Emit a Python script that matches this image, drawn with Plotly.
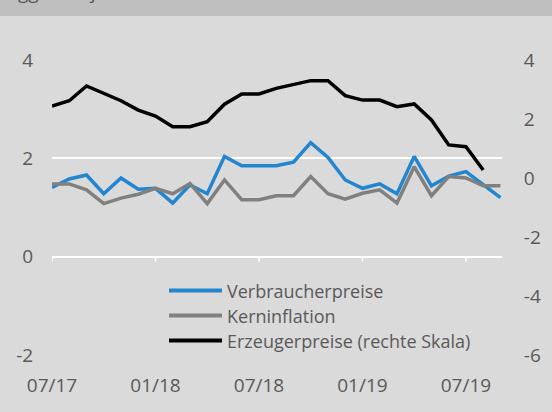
import plotly.graph_objects as go

months = ["07/17", "08/17", "09/17", "10/17", "11/17", "12/17",
          "01/18", "02/18", "03/18", "04/18", "05/18", "06/18",
          "07/18", "08/18", "09/18", "10/18", "11/18", "12/18",
          "01/19", "02/19", "03/19", "04/19", "05/19", "06/19",
          "07/19", "08/19", "09/19"]

verbraucherpreise = [1.41, 1.58, 1.66, 1.28, 1.60, 1.37, 1.39, 1.09, 1.46,
                     1.28, 2.04, 1.85, 1.85, 1.85, 1.92, 2.32, 2.02, 1.56,
                     1.39, 1.48, 1.28, 2.04, 1.44, 1.64, 1.73, 1.46, 1.20]

kerninflation = [1.48, 1.48, 1.36, 1.08, 1.19, 1.27, 1.39, 1.28, 1.49,
                 1.08, 1.56, 1.16, 1.16, 1.24, 1.24, 1.63, 1.28, 1.17,
                 1.29, 1.36, 1.09, 1.83, 1.24, 1.63, 1.60, 1.44, 1.44]

erzeugerpreise = [2.44, 2.62, 3.12, 2.87, 2.62, 2.30, 2.10, 1.74, 1.74,
                  1.91, 2.50, 2.85, 2.85, 3.04, 3.16, 3.30, 3.30, 2.79,
                  2.64, 2.64, 2.42, 2.51, 1.97, 1.12, 1.06, 0.27]

series_names = ["Verbraucherpreise", "Kerninflation", "Erzeugerpreise (rechte Skala)"]
series_colors = ["#2185d0", "#808080", "#000000"]

tick_months = ["07/17", "01/18", "07/18", "01/19", "07/19"]
left_ticks = [-2, 0, 2, 4]
left_labels = ["-2", "0", "2", "4"]
right_ticks = [-6, -4, -2, 0, 2, 4]
right_labels = ["-6", "-4", "-2", "0", "2", "4"]

BG = "#dadada"
TXT = "#595959"
FONT = "Open Sans"
FS = 19
LEG_FS = 18

fig = go.Figure()
fig.add_trace(go.Scatter(x=months, y=verbraucherpreise, name=series_names[0],
                         mode="lines", line=dict(color=series_colors[0], width=3.5)))
fig.add_trace(go.Scatter(x=months, y=kerninflation, name=series_names[1],
                         mode="lines", line=dict(color=series_colors[1], width=3.5)))
fig.add_trace(go.Scatter(x=months[:len(erzeugerpreise)], y=erzeugerpreise,
                         name=series_names[2], yaxis="y2",
                         mode="lines", line=dict(color=series_colors[2], width=3.5)))

W_PLOT, H_PLOT, L, B = 450, 295, 52, 57


def px_x(p):
    return (p - L) / W_PLOT


def px_y(p):
    return (412 - B - p) / H_PLOT


shapes = []
annotations = []
# header band
shapes.append(dict(type="rect", xref="paper", yref="paper",
                   x0=-0.2, x1=1.2, y0=px_y(16), y1=1.3,
                   fillcolor="#bfbfbf", line=dict(width=0), layer="below"))
annotations.append(dict(text="ggü. Vorjahr", xref="paper", yref="paper",
                        x=px_x(16), xanchor="left", y=px_y(7), yanchor="bottom",
                        showarrow=False, font=dict(size=FS, color=TXT)))
# tick marks on the zero line
for m in tick_months:
    shapes.append(dict(type="line", xref="x", yref="y", x0=m, x1=m,
                       ysizemode="pixel", yanchor=0, y0=0, y1=-5,
                       line=dict(color="white", width=1.5)))
# legend
legend_rows = [290.5, 315.5, 340.5]
for name, color, row in zip(series_names, series_colors, legend_rows):
    shapes.append(dict(type="line", xref="paper", yref="paper",
                       x0=px_x(169), x1=px_x(222), y0=px_y(row), y1=px_y(row),
                       line=dict(color=color, width=4)))
    annotations.append(dict(text=name, xref="paper", yref="paper",
                            x=px_x(226), xanchor="left", y=px_y(row), yanchor="middle",
                            borderpad=0,
                            showarrow=False, font=dict(size=LEG_FS, color=TXT)))

fig.update_layout(
    width=552, height=412,
    margin=dict(l=L, r=50, t=60, b=B),
    paper_bgcolor=BG, plot_bgcolor=BG,
    font=dict(family=FONT, size=FS, color=TXT),
    showlegend=False,
    xaxis=dict(type="category", categoryarray=months, range=[0, 26.09],
               tickmode="array", tickvals=tick_months, ticktext=tick_months,
               showgrid=False, zeroline=False, showline=False,
               ticks="outside", ticklen=0, ticklabelstandoff=13,
               tickfont=dict(size=FS, color=TXT)),
    yaxis=dict(range=[-2, 4], tickmode="array", tickvals=left_ticks, ticktext=left_labels,
               showgrid=True, gridcolor="white", gridwidth=1.5, zeroline=True,
               zerolinecolor="white", zerolinewidth=1.5, showline=False,
               ticks="outside", ticklen=0, ticklabelstandoff=14,
               tickfont=dict(size=FS, color=TXT)),
    yaxis2=dict(range=[-6, 4], tickmode="array", tickvals=right_ticks, ticktext=right_labels,
                overlaying="y", side="right",
                showgrid=False, zeroline=False, showline=False,
                ticks="outside", ticklen=0, ticklabelstandoff=17,
                tickfont=dict(size=FS, color=TXT)),
    shapes=shapes,
    annotations=annotations,
)

fig.write_html("out.html", config={"displayModeBar": False},
               post_script="document.body.style.margin='0';document.body.style.overflow='hidden';")
